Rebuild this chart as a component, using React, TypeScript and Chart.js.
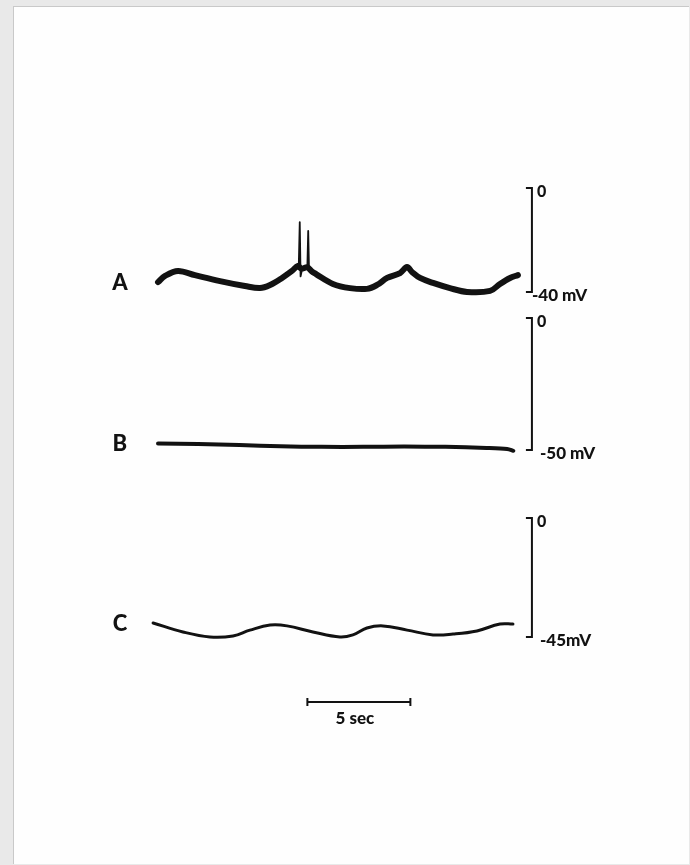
import { useEffect, useRef } from "react";
import { Chart, registerables } from "chart.js";

Chart.register(...registerables);

// ---------- data (time in seconds, membrane potential in mV) ----------
const A_TIME = [0.05, 0.39, 1.02, 1.84, 3.06, 4.27, 5.0, 5.49, 6.07, 6.55, 6.84, 7.0, 7.3, 7.5, 7.72, 8.54, 9.37, 10.19, 10.68, 11.17, 11.8, 12.14, 12.38, 12.77, 13.4, 14.22, 15.05, 16.17, 16.65, 17.14, 17.52];
const A_MV = [-36.2, -33.8, -31.9, -33.5, -35.8, -37.7, -38.5, -37.3, -34.6, -31.9, -30.0, -31.0, -30.5, -32.0, -33.1, -36.9, -38.5, -38.8, -37.3, -34.6, -32.7, -30.4, -32.3, -34.6, -36.5, -38.5, -40.0, -39.6, -36.9, -34.6, -33.5];
const A_SPIKE_TIME = [6.88, 6.93, 6.97, 7.05, 7.3, 7.34, 7.38];
const A_SPIKE_MV = [-30.5, -13.1, -34.0, -31.0, -30.0, -16.5, -31.5];
const B_TIME = [0.05, 2.0, 4.0, 6.0, 8.0, 10.0, 12.0, 14.0, 16.0, 17.0, 17.3];
const B_MV = [-47.5, -47.7, -48.1, -48.6, -48.8, -48.8, -48.7, -48.8, -49.2, -49.6, -50.3];
const C_TIME = [-0.19, 1.26, 2.57, 3.69, 4.51, 5.49, 6.31, 7.57, 8.88, 9.51, 10.19, 10.97, 12.14, 13.4, 14.37, 15.53, 16.65, 17.28];
const C_MV = [-39.7, -43.1, -45.0, -44.6, -42.4, -40.5, -40.8, -43.1, -45.0, -44.2, -41.6, -40.8, -42.4, -44.2, -43.9, -42.7, -40.1, -40.1];

const PANEL_LABELS = ["A", "B", "C"];
const SCALE_TOP_MV = 0;
const SCALE_TOP_LABEL = "0";
const SCALE_BOTTOM_MV = [-40, -50, -45];
const SCALE_BOTTOM_LABELS = ["-40 mV", "-50 mV", "-45mV"];
const TIME_BAR_SEC = 5;
const TIME_BAR_LABEL = "5 sec";

// ---------- layout ----------
const W = 690;
const H = 865;
const AREA_TOP = 150;
const AREA_BOTTOM = 760;
const X_MIN = -0.5;
const X_MAX = 18;
const PX_PER_SEC = 20.6;
const X_ZERO_PX = 157;
const PANEL_PX = [
  { top: 188, bottom: 292 },
  { top: 318, bottom: 450 },
  { top: 518, bottom: 637 },
];
const SCALE_BAR_T = 18.2;
const TIME_BAR_START = 7.3;
const LABEL_T = -1.8;
const INK = "#121212";
const FONT = "Lato, 'Open Sans', sans-serif";

function axisRange(i: number) {
  const p = PANEL_PX[i];
  const vBot = SCALE_BOTTOM_MV[i];
  const k = (p.bottom - p.top) / (SCALE_TOP_MV - vBot);
  return {
    max: SCALE_TOP_MV + (p.top - AREA_TOP) / k,
    min: vBot - (AREA_BOTTOM - p.bottom) / k,
  };
}

function pts(t: number[], v: number[]) {
  return t.map((x, i) => ({ x, y: v[i] }));
}

const decorPlugin = {
  id: "decor",
  afterDatasetsDraw(chart: any) {
    const ctx = chart.ctx as CanvasRenderingContext2D;
    const xs = chart.scales.x;
    const axes = [chart.scales.yA, chart.scales.yB, chart.scales.yC];
    const firsts = [A_MV[0], B_MV[0], C_MV[0]];
    ctx.save();
    ctx.strokeStyle = INK;
    ctx.fillStyle = INK;
    ctx.lineCap = "butt";
    const barX = xs.getPixelForValue(SCALE_BAR_T);
    axes.forEach((ax: any, i: number) => {
      const yTop = ax.getPixelForValue(SCALE_TOP_MV);
      const yBot = ax.getPixelForValue(SCALE_BOTTOM_MV[i]);
      ctx.lineWidth = 2;
      ctx.beginPath();
      ctx.moveTo(barX - 6, yTop);
      ctx.lineTo(barX, yTop);
      ctx.lineTo(barX, yBot);
      ctx.lineTo(barX - 6, yBot);
      ctx.stroke();
      ctx.textBaseline = "middle";
      ctx.textAlign = "left";
      ctx.font = `900 16px ${FONT}`;
      ctx.fillText(SCALE_TOP_LABEL, barX + 5, yTop + 4);
      ctx.font = `900 17px ${FONT}`;
      ctx.fillText(SCALE_BOTTOM_LABELS[i], barX + (i === 0 ? 0 : 8), yBot + 4);
      // panel letter
      ctx.textAlign = "center";
      ctx.font = `900 22px ${FONT}`;
      ctx.fillText(PANEL_LABELS[i], xs.getPixelForValue(LABEL_T), ax.getPixelForValue(firsts[i]) + 1);
    });
    // time scale bar
    const x0 = xs.getPixelForValue(TIME_BAR_START);
    const x1 = xs.getPixelForValue(TIME_BAR_START + TIME_BAR_SEC);
    const yb = chart.chartArea.bottom - 58;
    ctx.lineWidth = 2;
    ctx.beginPath();
    ctx.moveTo(x0, yb);
    ctx.lineTo(x1, yb);
    ctx.moveTo(x0, yb - 4);
    ctx.lineTo(x0, yb + 4);
    ctx.moveTo(x1, yb - 4);
    ctx.lineTo(x1, yb + 4);
    ctx.stroke();
    ctx.textAlign = "center";
    ctx.textBaseline = "middle";
    ctx.font = `900 17px ${FONT}`;
    ctx.fillText(TIME_BAR_LABEL, (x0 + x1) / 2 - 4, yb + 17);
    ctx.restore();
  },
};

export default function App() {
  const ref = useRef<HTMLCanvasElement | null>(null);
  useEffect(() => {
    if (!ref.current) return;
    const rA = axisRange(0);
    const rB = axisRange(1);
    const rC = axisRange(2);
    const left = X_ZERO_PX + X_MIN * PX_PER_SEC;
    const right = W - (X_ZERO_PX + X_MAX * PX_PER_SEC);
    const base = { pointRadius: 0, borderColor: INK, fill: false, borderCapStyle: "round", borderJoinStyle: "round" };
    const chart = new Chart(ref.current, {
      type: "line",
      data: {
        datasets: [
          { ...base, label: "A", data: pts(A_TIME, A_MV), yAxisID: "yA", borderWidth: 6, tension: 0.35 },
          { ...base, label: "A spikes", data: pts(A_SPIKE_TIME, A_SPIKE_MV), yAxisID: "yA", borderWidth: 1.8, tension: 0 },
          { ...base, label: "B", data: pts(B_TIME, B_MV), yAxisID: "yB", borderWidth: 4, tension: 0.3 },
          { ...base, label: "C", data: pts(C_TIME, C_MV), yAxisID: "yC", borderWidth: 3, tension: 0.4 },
        ] as any,
      },
      options: {
        animation: false,
        responsive: false,
        devicePixelRatio: 1,
        layout: { padding: { top: AREA_TOP, bottom: H - AREA_BOTTOM, left, right } },
        plugins: { legend: { display: false }, tooltip: { enabled: false } },
        scales: {
          x: { type: "linear", min: X_MIN, max: X_MAX, display: false },
          yA: { type: "linear", min: rA.min, max: rA.max, display: false },
          yB: { type: "linear", min: rB.min, max: rB.max, display: false },
          yC: { type: "linear", min: rC.min, max: rC.max, display: false },
        },
      },
      plugins: [decorPlugin],
    });
    return () => chart.destroy();
  }, []);
  return (
    <div style={{ position: "absolute", left: 0, top: 0, width: W, height: H, background: "#e9e9e9", overflow: "hidden" }}>
      <div
        style={{
          position: "absolute",
          left: 13,
          top: 6,
          width: W - 15,
          height: H - 8,
          background: "#fefefe",
          borderLeft: "1px solid #c9c9c9",
          borderTop: "1px solid #c9c9c9",
        }}
      />
      <canvas ref={ref} width={W} height={H} style={{ position: "absolute", left: 0, top: 0, width: W, height: H }} />
    </div>
  );
}
